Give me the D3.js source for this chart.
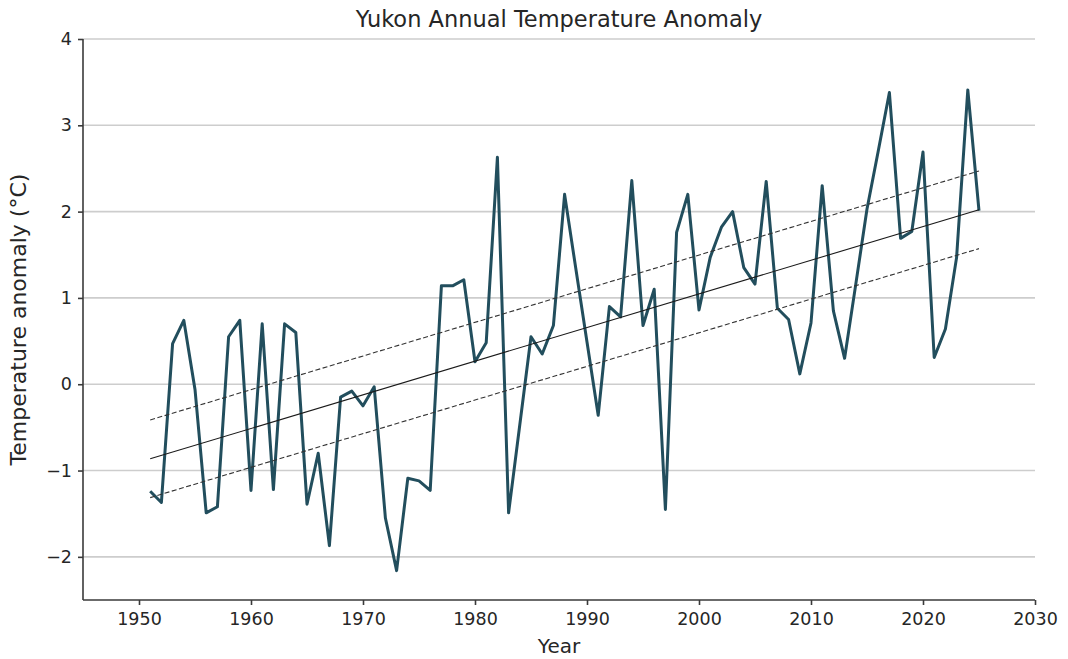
<!DOCTYPE html>
<meta charset="utf-8">
<style>
body { margin: 0; background: #fff; }
svg text { font-family: "DejaVu Sans", sans-serif; fill: #262626; }
.grid line { stroke: #cdcdcd; stroke-width: 1.6px; }
.axis path, .axis line { stroke: #3a3a3a; stroke-width: 1.6px; }
.anomaly { fill: none; stroke: #224e5d; stroke-width: 3px; stroke-linejoin: round; }
.trend { fill: none; stroke: #1a1a1a; stroke-width: 1.1px; }
.band { fill: none; stroke: #333; stroke-width: 1.1px; stroke-dasharray: 5,2.5; }
</style>
<body>
<div id="chart"></div>
<script src="https://cdn.jsdelivr.net/npm/d3@7"></script>
<script>
var years = [1951,1952,1953,1954,1955,1956,1957,1958,1959,1960,
  1961,1962,1963,1964,1965,1966,1967,1968,1969,1970,
  1971,1972,1973,1974,1975,1976,1977,1978,1979,1980,
  1981,1982,1983,1984,1985,1986,1987,1988,1989,1990,
  1991,1992,1993,1994,1995,1996,1997,1998,1999,2000,
  2001,2002,2003,2004,2005,2006,2007,2008,2009,2010,
  2011,2012,2013,2014,2015,2016,2017,2018,2019,2020,
  2021,2022,2023,2024,2025];
var anomalies = [-1.24,-1.37,0.47,0.74,-0.06,-1.49,-1.42,0.55,0.74,-1.23,
  0.70,-1.22,0.70,0.60,-1.39,-0.80,-1.87,-0.15,-0.08,-0.25,
  -0.03,-1.55,-2.16,-1.09,-1.12,-1.23,1.14,1.14,1.21,0.26,
  0.48,2.63,-1.49,-0.47,0.55,0.35,0.68,2.20,1.34,0.49,
  -0.36,0.90,0.78,2.36,0.68,1.10,-1.45,1.76,2.20,0.86,
  1.47,1.82,2.00,1.35,1.16,2.35,0.88,0.75,0.12,0.71,
  2.30,0.85,0.30,1.16,2.03,2.70,3.38,1.69,1.77,2.69,
  0.31,0.64,1.47,3.41,2.01];
var xTicks = [1950,1960,1970,1980,1990,2000,2010,2020,2030];
var yTicks = [-2,-1,0,1,2,3,4];
var bandOffset = 0.45;   // half-width of the dashed band around the fit

var W = 1068, H = 659;
var margin = {top: 39, right: 33, bottom: 59, left: 83};

var svg = d3.select("#chart").append("svg")
  .attr("width", W).attr("height", H);

var x = d3.scaleLinear().domain([1945, 2030]).range([margin.left, W - margin.right]);
var y = d3.scaleLinear().domain([-2.5, 4]).range([H - margin.bottom, margin.top]);

// grid
svg.append("g").attr("class", "grid")
  .selectAll("line").data(yTicks).enter().append("line")
  .attr("x1", x(1945)).attr("x2", x(2030))
  .attr("y1", function(d) { return y(d); })
  .attr("y2", function(d) { return y(d); });

// least squares fit
var data = years.map(function(yr, i) { return {year: yr, value: anomalies[i]}; });
var mx = d3.mean(years), my = d3.mean(anomalies);
var slope = d3.sum(data, function(d) { return (d.year - mx) * (d.value - my); }) /
            d3.sum(data, function(d) { return (d.year - mx) * (d.year - mx); });
var icpt = my - slope * mx;
var ends = [years[0], years[years.length - 1]];
function fitLine(off) {
  return ends.map(function(yr) { return [x(yr), y(icpt + slope * yr + off)]; });
}
var line = d3.line();

svg.append("path").attr("class", "anomaly")
  .attr("d", d3.line()
    .x(function(d) { return x(d.year); })
    .y(function(d) { return y(d.value); })(data));

svg.append("path").attr("class", "trend").attr("d", line(fitLine(0)));
svg.append("path").attr("class", "band").attr("d", line(fitLine(bandOffset)));
svg.append("path").attr("class", "band").attr("d", line(fitLine(-bandOffset)));

// axes
var xAxis = svg.append("g").attr("class", "axis")
  .attr("transform", "translate(0," + (H - margin.bottom) + ")")
  .call(d3.axisBottom(x).tickValues(xTicks).tickFormat(d3.format("d")).tickSizeOuter(0).tickSize(5).tickPadding(8));
xAxis.selectAll("text").style("font-size", "17.5px");

var yAxis = svg.append("g").attr("class", "axis")
  .attr("transform", "translate(" + margin.left + ",0)")
  .call(d3.axisLeft(y).tickValues(yTicks).tickSizeOuter(0).tickSize(5).tickPadding(6)
    .tickFormat(function(d) { return d < 0 ? "\u2212" + Math.abs(d) : d; }));
yAxis.selectAll("text").style("font-size", "17.5px");
xAxis.select(".domain").attr("d", "M" + x(1945) + ",0H" + x(2030));
yAxis.select(".domain").attr("d", "M0," + y(-2.5) + "V" + y(4));

// titles
svg.append("text").attr("x", (x(1945) + x(2030)) / 2).attr("y", 27)
  .attr("text-anchor", "middle").style("font-size", "22.5px")
  .text("Yukon Annual Temperature Anomaly");
svg.append("text").attr("x", (x(1945) + x(2030)) / 2).attr("y", 653)
  .attr("text-anchor", "middle").style("font-size", "20px")
  .text("Year");
svg.append("text")
  .attr("transform", "translate(26," + (y(-2.5) + y(4)) / 2 + ") rotate(-90)")
  .attr("text-anchor", "middle").style("font-size", "22px")
  .text("Temperature anomaly (°C)");
</script>
</body>
